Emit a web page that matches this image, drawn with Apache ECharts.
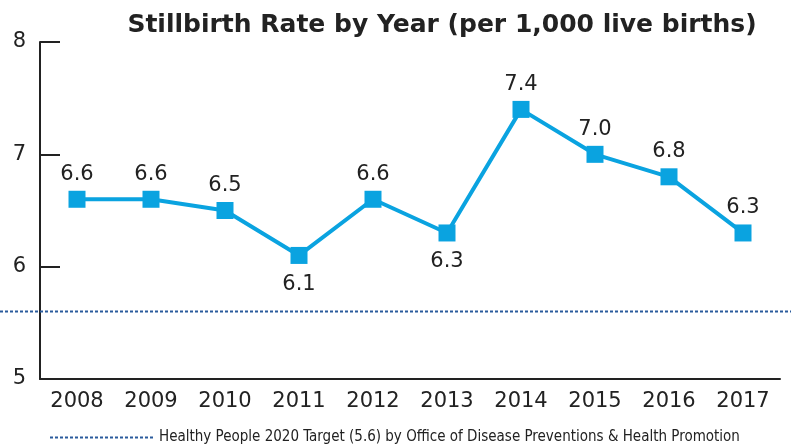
<!DOCTYPE html>
<html>
<head>
<meta charset="utf-8">
<script src="https://cdn.jsdelivr.net/npm/echarts@6/dist/echarts.min.js"></script>
<style>
  html, body { margin: 0; padding: 0; background: #fff; }
  #chart { width: 791px; height: 447px; }
</style>
</head>
<body>
<div id="chart"></div>
<script>
const years = ["2008", "2009", "2010", "2011", "2012", "2013", "2014", "2015", "2016", "2017"];
const rates = [6.6, 6.6, 6.5, 6.1, 6.6, 6.3, 7.4, 7.0, 6.8, 6.3];
const labelBelow = [false, false, false, true, false, true, false, false, false, false];
const targetValue = 5.6;
const targetName = "Healthy People 2020 Target (5.6) by Office of Disease Preventions & Health Promotion";

const lineColor = "#0aa3e0";
const targetColor = "#2a5b9c";
const textColor = "#222";
const numFont = "DejaVu Sans";

const chart = echarts.init(document.getElementById("chart"));

chart.setOption({
  animation: false,
  title: {
    text: "Stillbirth Rate by Year (per 1,000 live births)",
    left: 437,
    textAlign: "center",
    top: 8,
    textStyle: { fontFamily: "DejaVu Sans", fontWeight: "bold", fontSize: 25, color: textColor },
  },
  legend: {
    top: 425,
    left: 44,
    itemWidth: 104,
    itemHeight: 10,
    itemGap: 9,
    data: [targetName],
    itemStyle: { opacity: 0 },
    lineStyle: { color: targetColor, width: 2, type: [3, 2] },
    textStyle: { fontFamily: "DejaVu Sans Condensed", fontSize: 15, color: textColor },
  },
  grid: [
    { left: 40, right: 11, top: 42, bottom: 68 },
    { left: 0, right: 0, top: 42, bottom: 68 },
  ],
  xAxis: [
    {
      gridIndex: 0,
      type: "category",
      data: years,
      boundaryGap: true,
      axisLine: { lineStyle: { color: "#222", width: 2 } },
      axisTick: { inside: true, length: 8, lineStyle: { color: "#222", width: 2 } },
      axisLabel: { color: textColor, fontFamily: numFont, fontSize: 21, margin: 12 },
    },
    { gridIndex: 1, type: "value", min: 0, max: 1, show: false },
  ],
  yAxis: [
    {
      gridIndex: 0,
      type: "value",
      min: 5,
      max: 8,
      interval: 1,
      axisLine: { show: true, lineStyle: { color: "#222", width: 2 } },
      axisTick: { show: true, inside: true, length: 20, lineStyle: { color: "#222", width: 2 } },
      splitLine: { show: false },
      axisLabel: { color: textColor, fontFamily: numFont, fontSize: 21, margin: 14 },
    },
    { gridIndex: 1, type: "value", min: 5, max: 8, show: false },
  ],
  series: [
    {
      name: targetName,
      type: "line",
      xAxisIndex: 1,
      yAxisIndex: 1,
      data: [[0, targetValue], [1, targetValue]],
      symbol: "none",
      lineStyle: { color: targetColor, width: 2, type: [3, 2] },
      itemStyle: { color: targetColor },
      z: 1,
    },
    {
      name: "Stillbirth rate",
      type: "line",
      data: rates.map((v, i) => ({
        value: v,
        label: labelBelow[i] ? { position: "bottom", distance: 10 } : { position: "top", distance: 6 },
      })),
      symbol: "rect",
      symbolSize: 17,
      lineStyle: { color: lineColor, width: 4 },
      itemStyle: { color: lineColor },
      label: {
        show: true,
        color: textColor,
        fontFamily: numFont,
        fontSize: 21,
        formatter: (p) => p.value.toFixed(1),
      },
      z: 3,
    },
  ],
});
</script>
</body>
</html>
